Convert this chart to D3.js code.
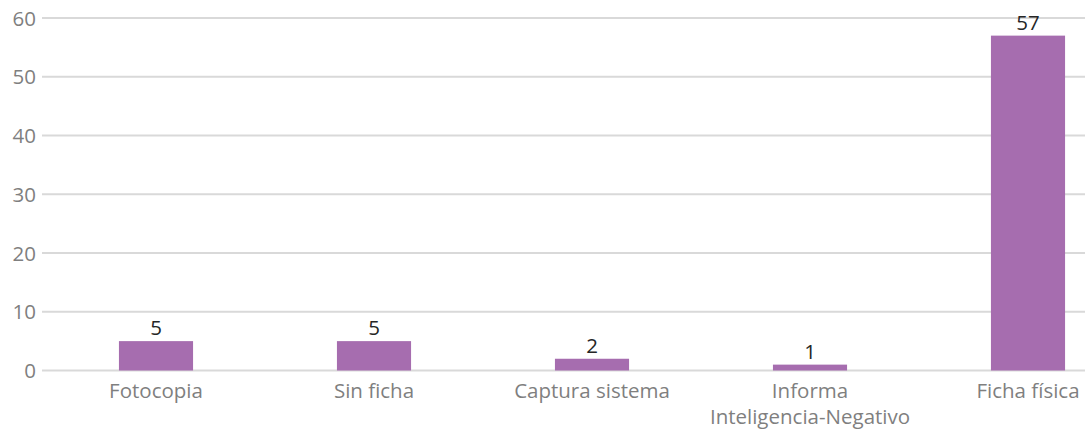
<!DOCTYPE html>
<html>
<head>
<meta charset="utf-8">
<script src="https://cdn.jsdelivr.net/npm/d3@7"></script>
<style>
  body { margin: 0; background: #fff; }
  svg { display: block; font-family: "Open Sans", sans-serif; }
</style>
</head>
<body>
<div id="chart"></div>
<script>
// Data
const categories = ["Fotocopia", "Sin ficha", "Captura sistema", "Informa\nInteligencia-Negativo", "Ficha física"];
const counts = [5, 5, 2, 1, 57];
const yTicks = [0, 10, 20, 30, 40, 50, 60];

const W = 1085, H = 432;

const svg = d3.select("#chart")
    .append("svg")
    .attr("width", W)
    .attr("height", H);

// Scales (plot is cropped on the right, so range runs past the window)
const x = d3.scaleBand()
    .domain(categories)
    .range([47, 1137])
    .paddingInner(0.66)
    .paddingOuter(0.33);

const y = d3.scaleLinear()
    .domain([0, 60])
    .range([370.5, 18]);

// Gridlines
svg.append("g")
    .selectAll("line")
    .data(yTicks)
    .enter().append("line")
    .attr("x1", 42)
    .attr("x2", W)
    .attr("y1", d => y(d))
    .attr("y2", d => y(d))
    .attr("stroke", "#d9d9d9")
    .attr("stroke-width", 2);

// Y axis labels
const yAxis = svg.append("g")
    .attr("transform", "translate(36,0)")
    .call(d3.axisLeft(y).tickValues(yTicks).tickSize(0).tickPadding(0));
yAxis.select(".domain").remove();
yAxis.selectAll("text")
    .attr("fill", "#7f7f7f")
    .attr("dy", "0.35em")
    .style("font-size", "20.5px")
    .style("font-family", "'Open Sans', sans-serif");

// Bars
svg.append("g")
    .selectAll("rect")
    .data(categories)
    .enter().append("rect")
    .attr("x", d => x(d))
    .attr("y", (d, i) => y(counts[i]))
    .attr("width", x.bandwidth())
    .attr("height", (d, i) => y(0) - y(counts[i]))
    .attr("fill", "#a66daf");

// Value labels
svg.append("g")
    .selectAll("text")
    .data(categories)
    .enter().append("text")
    .attr("x", d => x(d) + x.bandwidth() / 2)
    .attr("y", (d, i) => y(counts[i]) - 6)
    .attr("text-anchor", "middle")
    .attr("fill", "#262626")
    .style("font-size", "20.5px")
    .text((d, i) => counts[i]);

// Category labels
const cat = svg.append("g")
    .selectAll("text")
    .data(categories)
    .enter().append("text")
    .attr("x", d => x(d) + x.bandwidth() / 2)
    .attr("y", 398)
    .attr("text-anchor", "middle")
    .attr("fill", "#7f7f7f")
    .style("font-size", "20.5px");

cat.selectAll("tspan")
    .data(d => d.split("\n").map((t, k) => ({t, k, cx: x(d) + x.bandwidth() / 2})))
    .enter().append("tspan")
    .attr("x", d => d.cx)
    .attr("dy", d => d.k === 0 ? 0 : 26)
    .text(d => d.t);
</script>
</body>
</html>
